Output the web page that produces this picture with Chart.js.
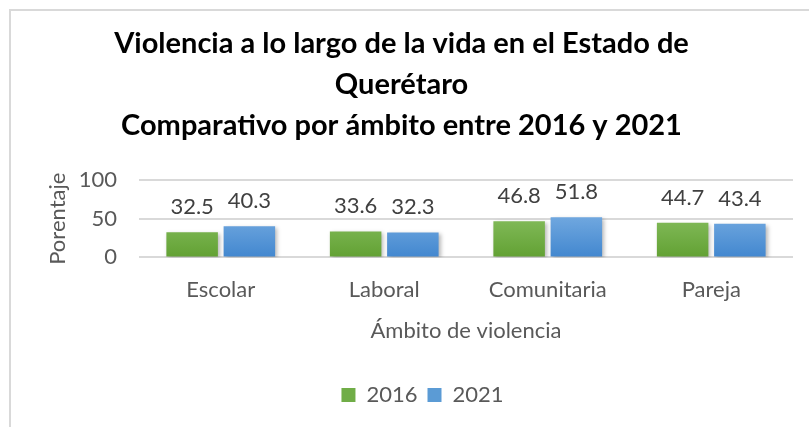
<!DOCTYPE html>
<html>
<head>
<meta charset="utf-8">
<script src="https://cdn.jsdelivr.net/npm/chart.js@4.4.0/dist/chart.umd.min.js"></script>
<style>
  html, body { margin: 0; padding: 0; background: #fff; }
  #frame { position: absolute; left: 9px; top: 9px; width: 820px; height: 430px;
           border-top: 2px solid #d9d9d9; border-left: 2px solid #d9d9d9; }
  #wrap { position: absolute; left: 0; top: 0; width: 809px; height: 427px; }
</style>
</head>
<body>
<div id="frame"></div>
<div id="wrap"><canvas id="myChart"></canvas></div>
<script>
// datos
var ambitos = ['Escolar', 'Laboral', 'Comunitaria', 'Pareja'];
var datos2016 = [32.5, 33.6, 46.8, 44.7];
var datos2021 = [40.3, 32.3, 51.8, 43.4];
var yTicks = [0, 50, 100];

var titulo = [
  'Violencia a lo largo de la vida en el Estado de',
  'Querétaro',
  'Comparativo por ámbito entre 2016 y 2021'
];

var ctx = document.getElementById('myChart').getContext('2d');

Chart.defaults.font.family = 'Lato';
Chart.defaults.color = '#595959';

// degradado vertical para las barras
function degradado(chart, top, bottom) {
  var y = chart.scales.y;
  if (!y) return top;
  var g = chart.ctx.createLinearGradient(0, y.getPixelForValue(55), 0, y.getPixelForValue(0));
  g.addColorStop(0, top);
  g.addColorStop(1, bottom);
  return g;
}

// sombra suave detras de las barras
var sombra = {
  id: 'sombra',
  beforeDatasetsDraw: function (chart) {
    var c = chart.ctx;
    c.save();
    c.shadowColor = 'rgba(0,0,0,0.28)';
    c.shadowBlur = 4;
    c.shadowOffsetX = 2;
    c.shadowOffsetY = 2;
  },
  afterDatasetsDraw: function (chart) {
    chart.ctx.restore();
  }
};

// etiquetas con el valor encima de cada barra
var etiquetas = {
  id: 'etiquetas',
  afterDatasetsDraw: function (chart) {
    var c = chart.ctx;
    c.save();
    c.font = '22px Lato';
    c.fillStyle = '#404040';
    c.textAlign = 'center';
    c.textBaseline = 'middle';
    chart.data.datasets.forEach(function (ds, i) {
      chart.getDatasetMeta(i).data.forEach(function (bar, j) {
        c.fillText(ds.data[j].toFixed(1), bar.x, bar.y - 25);
      });
    });
    c.restore();
  }
};

// la leyenda va un poco a la derecha, como en el original
var moverLeyenda = {
  id: 'moverLeyenda',
  afterLayout: function (chart) {
    chart.legend.left += 21;
    chart.legend.right += 21;
  }
};

var config = {
  type: 'bar',
  data: {
    labels: ambitos,
    datasets: [
      {
        label: '2016',
        data: datos2016,
        backgroundColor: function (context) { return degradado(context.chart, '#84bc5c', '#62a133'); },
        categoryPercentage: 0.7,
        barPercentage: 0.9
      },
      {
        label: '2021',
        data: datos2021,
        backgroundColor: function (context) { return degradado(context.chart, '#72a9e0', '#4287cf'); },
        categoryPercentage: 0.7,
        barPercentage: 0.9
      }
    ]
  },
  options: {
    responsive: true,
    maintainAspectRatio: false,
    animation: false,
    layout: { padding: { top: 13, left: 10, right: 16, bottom: 11 } },
    plugins: {
      title: {
        display: true,
        text: titulo,
        color: '#000',
        font: { size: 29, weight: 'bold', family: 'Lato', lineHeight: 41 / 29 },
        padding: { top: 10.5, bottom: 33.5 }
      },
      legend: {
        position: 'bottom',
        labels: {
          boxWidth: 14,
          boxHeight: 14,
          padding: 10,
          font: { size: 22 },
          color: '#595959',
          generateLabels: function (chart) {
            var cols = ['#70ad47', '#5b9bd5'];
            return chart.data.datasets.map(function (ds, i) {
              return { text: ds.label, fillStyle: cols[i], strokeStyle: cols[i], lineWidth: 0, datasetIndex: i, fontColor: '#595959' };
            });
          }
        }
      },
      tooltip: { enabled: false }
    },
    scales: {
      x: {
        grid: { display: false, drawTicks: false },
        border: { display: false },
        ticks: { padding: 19.8, font: { size: 22 }, color: '#595959' },
        title: {
          display: true,
          text: 'Ámbito de violencia',
          font: { size: 22 },
          color: '#595959',
          padding: { top: 0, bottom: 29.4 }
        },
        afterFit: function (scale) { scale.height = 116.6; }
      },
      y: {
        min: 0,
        max: 100,
        afterBuildTicks: function (axis) {
          axis.ticks = yTicks.map(function (v) { return { value: v }; });
        },
        grid: { color: '#d9d9d9', lineWidth: 2, drawTicks: false },
        border: { display: false },
        ticks: { padding: 22, font: { size: 22 }, color: '#595959' },
        title: {
          display: true,
          text: 'Porentaje',
          font: { size: 22 },
          color: '#595959',
          padding: { top: 34.8, bottom: 0 }
        },
        afterFit: function (scale) { scale.width = 129; }
      }
    }
  },
  plugins: [sombra, etiquetas, moverLeyenda]
};

var chart = new Chart(ctx, config);
</script>
</body>
</html>
